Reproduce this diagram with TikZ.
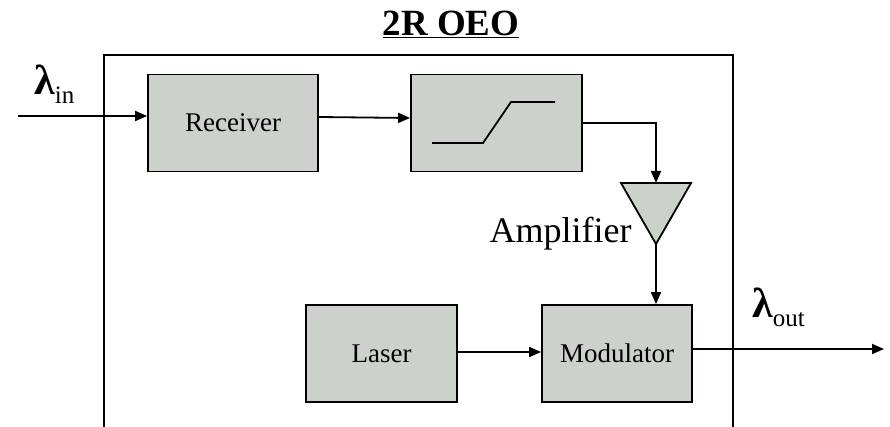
\documentclass[tikz,border=0pt]{standalone}
\usepackage{fontspec}
\setmainfont{Liberation Serif}
\usetikzlibrary{arrows.meta}
\definecolor{boxfill}{RGB}{205,209,204}
\tikzset{
  blk/.style={draw=black, line width=1.8pt, fill=boxfill, minimum width=#1, minimum height=97pt, inner sep=0pt, font=\fontsize{27}{30}\selectfont},
  conn/.style={line width=1.8pt, -{Triangle[length=12pt,width=10pt]}},
  wire/.style={line width=1.8pt},
  lam/.style={inner sep=0pt, anchor=south west},
}
\newcommand{\lamsub}[1]{{\fontsize{42}{44}\selectfont\textbf{λ}}\raisebox{-9pt}{\fontsize{25}{27}\selectfont #1}}
\begin{document}
\begin{tikzpicture}[x=1pt,y=-1pt]
\useasboundingbox (0,0) rectangle (890,427);
% title
\node (title) at (451,24) {\fontsize{37}{40}\selectfont\bfseries\underline{2R OEO}};
% outer frame
\draw[wire] (104,55) rectangle (733,428);
% blocks
\node[blk=170pt] (rx) at (233,123) {Receiver};
\node[blk=171pt] (th) at (496.5,123) {};
\node[blk=151pt] (laser) at (381.5,353.5) {Laser};
\node[blk=150pt] (mod) at (617,353.5) {Modulator};
% step characteristic
\draw[wire] (432,143) -- (483,143) -- (511,102) -- (555,102);
% amplifier
\coordinate (amptop) at (656,183);
\coordinate (ampbot) at (656,244);
\draw[line width=1.8pt, fill=boxfill, line join=miter] (621,183) -- (691,183) -- (ampbot) -- cycle;
\node[anchor=east, font=\fontsize{36}{40}\selectfont] (amplabel) at (635,234) {Amplifier};
% input / output
\coordinate (in) at (18,116);
\coordinate (out) at (884,349);
\node[lam] (lin) at (34,104) {\lamsub{in}};
\node[lam] (lout) at (752,327) {\lamsub{out}};
% connectors
\draw[conn] (in) -- (rx.west |- in);
\draw[conn] (rx.east |- 0,117) -- (th.west |- 0,118);
\draw[conn] (th.east |- 0,123) -| (amptop);
\draw[conn] (ampbot) -- (mod.north -| ampbot);
\draw[conn] (laser.east |- 0,352) -- (mod.west |- 0,352);
\draw[conn] (mod.east |- out) -- (out);
\end{tikzpicture}
\end{document}
